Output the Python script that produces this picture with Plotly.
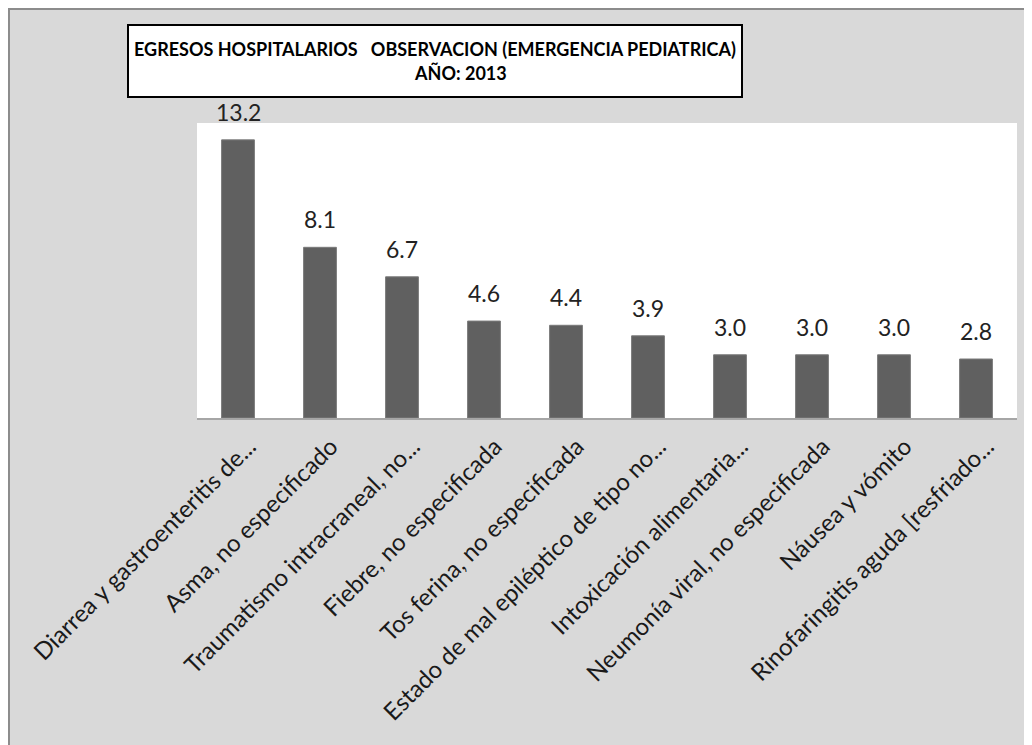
import plotly.graph_objects as go

categorias = [
    "Diarrea y gastroenteritis de...",
    "Asma, no especificado",
    "Traumatismo intracraneal, no...",
    "Fiebre, no especificada",
    "Tos ferina, no especificada",
    "Estado de mal epiléptico de tipo no...",
    "Intoxicación alimentaria...",
    "Neumonía viral, no especificada",
    "Náusea y vómito",
    "Rinofaringitis aguda [resfriado...",
]
porcentajes = [13.2, 8.1, 6.7, 4.6, 4.4, 3.9, 3.0, 3.0, 3.0, 2.8]

titulo = ("<b>EGRESOS HOSPITALARIOS&nbsp;&nbsp; OBSERVACION (EMERGENCIA PEDIATRICA)</b><br>"
          "<b>" + "&nbsp;" * 12 + "AÑO: 2013</b>")

fuente = "Lato, 'Noto Sans', sans-serif"

fig = go.Figure()
fig.add_trace(go.Bar(
    x=categorias,
    y=porcentajes,
    marker=dict(color="#606060", line=dict(color="#7a7a7a", width=1)),
    width=0.4,
    showlegend=False,
))

# etiquetas de valor encima de cada barra
etiquetas = [dict(
    x=c, y=v, text=f"{v:.1f}",
    xref="x", yref="y",
    xanchor="center", yanchor="bottom",
    yshift=12, showarrow=False,
    font=dict(family=fuente, size=23, color="#222222"),
) for c, v in zip(categorias, porcentajes)]

fig.update_layout(
    width=1032,
    height=745,
    margin=dict(l=189, r=23, t=115, b=335),
    paper_bgcolor="#d9d9d9",
    plot_bgcolor="white",
    font=dict(family=fuente, color="#222222"),
    xaxis=dict(
        tickangle=-45,
        tickfont=dict(size=24, color="#1a1a1a"),
        ticklabelshift=11,
        ticklabelstandoff=3,
        showline=True,
        linecolor="#a6a6a6",
        linewidth=2,
        showgrid=False,
        ticks="",
        automargin=False,
    ),
    yaxis=dict(
        range=[0, 14],
        visible=False,
        showgrid=False,
        automargin=False,
    ),
    shapes=[dict(
        type="rect", xref="paper", yref="paper",
        x0=-0.2293, x1=1.1, y0=-1.3, y1=1.3864,
        line=dict(color="#8c8c8c", width=2),
    )],
    annotations=[dict(
        text=titulo,
        xref="paper", yref="paper",
        x=0.290, y=1.2102,
        xanchor="center", yanchor="middle",
        showarrow=False,
        font=dict(family=fuente, size=18, color="black"),
        bgcolor="white",
        bordercolor="black",
        borderwidth=2,
        width=608,
        height=66,
        borderpad=2,
    )] + etiquetas,
)

fig.write_html("out.html")
